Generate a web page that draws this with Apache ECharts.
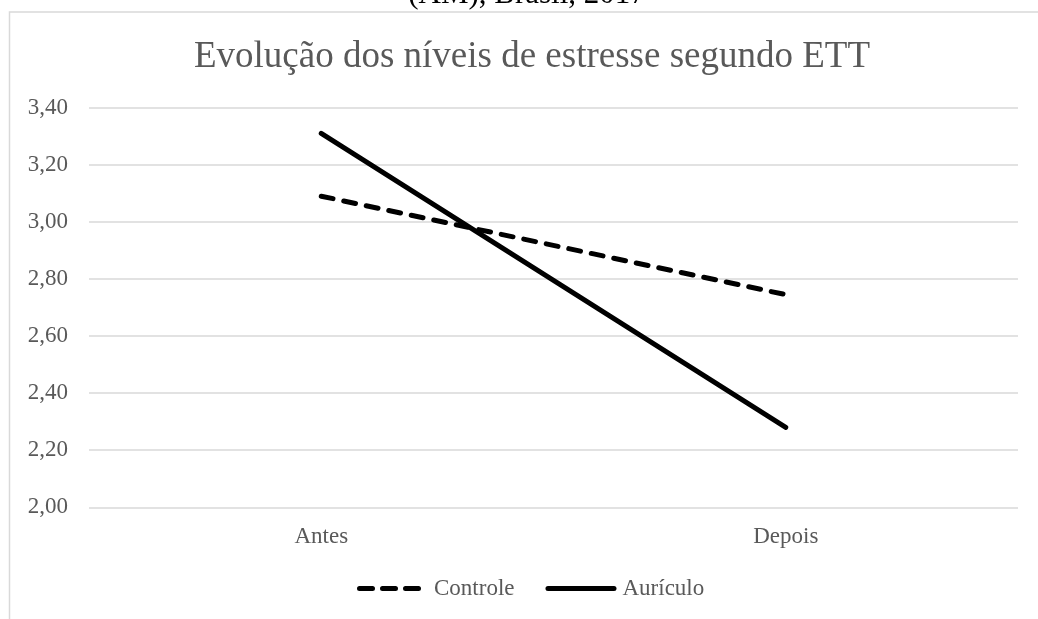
<!DOCTYPE html>
<html>
<head>
<meta charset="utf-8">
<script src="https://cdn.jsdelivr.net/npm/echarts@6/dist/echarts.min.js"></script>
<style>
  html, body { margin: 0; padding: 0; background: #fff; }
  #chart { width: 1038px; height: 619px; }
</style>
</head>
<body>
<div id="chart"></div>
<script>
// Mean stress scores (ETT) before and after the intervention
const categories = ['Antes', 'Depois'];
const controle = [3.09, 2.745];
const auriculo = [3.31, 2.28];
const yTicks = { min: 2.0, max: 3.4, step: 0.2 };

const serif = '"Liberation Serif", "Times New Roman", serif';
const grey = '#595959';

// Legend keys drawn as rounded strokes, 71 x 5 units
function roundSeg(a, b) {
  return 'M' + (a + 2.5) + ',0 H' + (b - 2.5) +
    ' A2.5,2.5 0 0 1 ' + (b - 2.5) + ',5 H' + (a + 2.5) +
    ' A2.5,2.5 0 0 1 ' + (a + 2.5) + ',0 Z ';
}
const solidKey = 'path://' + roundSeg(0, 71);
const dashedKey = 'path://' + roundSeg(0, 18) + roundSeg(23, 41) + roundSeg(46, 64) +
  'M71,2.5 L71,2.5 Z';

const chart = echarts.init(document.getElementById('chart'), null, { renderer: 'canvas' });

chart.setOption({
  backgroundColor: '#ffffff',
  animation: false,
  graphic: [
    {
      type: 'rect',
      silent: true,
      shape: { x: 9.5, y: 12, width: 1100, height: 700 },
      style: { fill: 'none', stroke: '#d9d9d9', lineWidth: 1.5 },
      z: -1
    },
    {
      type: 'text',
      x: 527, y: -5.5,
      style: {
        text: '(AM), Brasil, 2017',
        font: '31px ' + serif,
        fill: '#000000',
        align: 'center',
        verticalAlign: 'middle'
      }
    },
    {
      type: 'text',
      x: 532, y: 57.5,
      style: {
        text: 'Evolução dos níveis de estresse segundo ETT',
        font: '37px ' + serif,
        fill: grey,
        align: 'center',
        verticalAlign: 'middle'
      }
    }
  ],
  grid: { left: 89, right: 20, top: 107.7, bottom: 111.7, containLabel: false },
  legend: {
    data: [
      { name: 'Controle', icon: dashedKey },
      { name: 'Aurículo', icon: solidKey }
    ],
    left: 357,
    top: 577,
    padding: 0,
    itemWidth: 71,
    itemHeight: 5,
    itemGap: 31,
    itemStyle: { color: '#000' },
    textStyle: { fontFamily: serif, fontSize: 23, color: grey, padding: [0, 0, 0, 1] }
  },
  xAxis: {
    type: 'category',
    data: categories,
    boundaryGap: true,
    axisLine: { show: false },
    axisTick: { show: false },
    axisLabel: { fontFamily: serif, fontSize: 23, color: grey, margin: 18 }
  },
  yAxis: {
    type: 'value',
    min: yTicks.min,
    max: yTicks.max,
    interval: yTicks.step,
    axisLine: { show: false },
    axisTick: { show: false },
    axisLabel: {
      fontFamily: serif, fontSize: 23, color: grey, margin: 21,
      formatter: v => v.toFixed(2).replace('.', ',')
    },
    splitLine: { lineStyle: { color: '#d9d9d9', width: 1.5 } }
  },
  series: [
    {
      name: 'Controle',
      type: 'line',
      data: controle,
      symbol: 'none',
      lineStyle: { color: '#000', width: 5, type: [12, 11], cap: 'round' },
      itemStyle: { color: '#000' }
    },
    {
      name: 'Aurículo',
      type: 'line',
      data: auriculo,
      symbol: 'none',
      lineStyle: { color: '#000', width: 5, type: 'solid', cap: 'round' },
      itemStyle: { color: '#000' }
    }
  ]
});
</script>
</body>
</html>
